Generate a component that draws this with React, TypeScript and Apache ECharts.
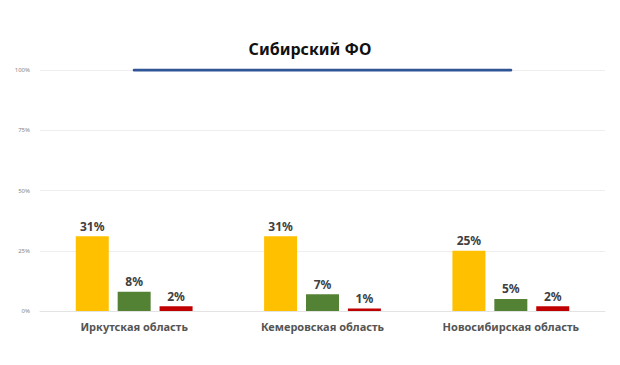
import React, { useEffect, useRef } from "react";
import * as echarts from "echarts";

const categories = ["Иркутская область", "Кемеровская область", "Новосибирская область"];
const yellowValues = [31, 31, 25];
const greenValues = [8, 7, 5];
const redValues = [2, 1, 2];
const blueLine = [100, 100, 100];
const yTicks = [0, 25, 50, 75, 100];

export default function App() {
  const ref = useRef<HTMLDivElement>(null);
  useEffect(() => {
    const chart = echarts.init(ref.current!, null, { renderer: "svg" });
    const font = "'Noto Sans', 'Open Sans', sans-serif";
    const label = {
      show: true,
      position: "top" as const,
      formatter: "{c}%",
      color: "#404040",
      fontWeight: "bold" as const,
      fontSize: 12,
      fontFamily: font,
      distance: 4,
    };
    chart.setOption({
      animation: false,
      backgroundColor: "#fff",
      title: {
        text: "Сибирский ФО",
        left: "center",
        top: 28,
        textStyle: { fontFamily: font, fontSize: 16, fontWeight: "bold", color: "#111" },
      },
      grid: { left: 32, right: 7, top: 62, bottom: 46 },
      xAxis: {
        type: "category",
        data: categories,
        axisTick: { show: false },
        axisLine: { show: true, lineStyle: { color: "#e3e3e3" } },
        axisLabel: { color: "#555", fontFamily: font, fontSize: 11, fontWeight: "bold", margin: 10 },
      },
      yAxis: {
        type: "value",
        min: 0,
        max: 100,
        interval: 25,
        axisLine: { show: false },
        axisTick: { show: false },
        splitLine: { lineStyle: { color: "#eeeeee" } },
        axisLabel: {
          color: "#888",
          fontSize: 6,
          fontFamily: font,
          margin: 10,
          formatter: (v: number) => (yTicks.includes(v) ? v + "%" : ""),
        },
      },
      series: [
        {
          type: "bar",
          data: yellowValues,
          barWidth: 33,
          barGap: "27%",
          itemStyle: { color: "#FFC000" },
          label,
        },
        {
          type: "bar",
          data: greenValues,
          barWidth: 33,
          barGap: "27%",
          itemStyle: { color: "#548235" },
          label,
        },
        {
          type: "bar",
          data: redValues,
          barWidth: 33,
          barGap: "27%",
          itemStyle: { color: "#C00000" },
          label,
        },
        {
          type: "line",
          data: blueLine,
          symbol: "none",
          lineStyle: { color: "#2F5597", width: 3, cap: "round" },
        },
      ],
    });
    return () => chart.dispose();
  }, []);
  return <div ref={ref} style={{ width: 604, height: 349 }} />;
}
